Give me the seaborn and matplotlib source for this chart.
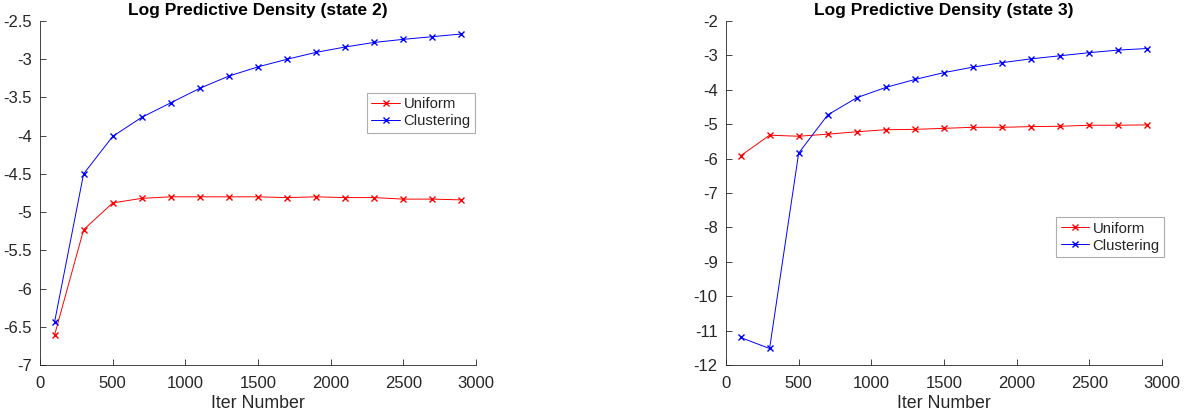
import numpy as np
import pandas as pd
import seaborn as sns
import matplotlib
matplotlib.use("Agg")
import matplotlib.pyplot as plt
from matplotlib.ticker import FuncFormatter

# Iteration counts shared by both panels
iters = [100, 300, 500, 700, 900, 1100, 1300, 1500, 1700, 1900, 2100, 2300, 2500, 2700, 2900]

# State 2 log predictive density
state2_uniform = [-6.61, -5.23, -4.88, -4.82, -4.80, -4.80, -4.80, -4.80, -4.81, -4.80,
                  -4.81, -4.81, -4.83, -4.83, -4.84]
state2_clustering = [-6.44, -4.50, -4.01, -3.76, -3.57, -3.38, -3.22, -3.10, -3.00, -2.91,
                     -2.84, -2.78, -2.74, -2.705, -2.67]

# State 3 log predictive density
state3_uniform = [-5.92, -5.32, -5.35, -5.29, -5.22, -5.16, -5.15, -5.12, -5.09, -5.09,
                  -5.07, -5.06, -5.03, -5.03, -5.02]
state3_clustering = [-11.20, -11.52, -5.84, -4.73, -4.23, -3.93, -3.70, -3.50, -3.34, -3.21,
                     -3.10, -3.01, -2.92, -2.845, -2.80]

methods = ["Uniform", "Clustering"]
titles = ["Log Predictive Density (state 2)", "Log Predictive Density (state 3)"]

sns.set_theme(style="white")
plt.rcParams["font.family"] = ["Liberation Sans", "DejaVu Sans"]

axis_gray = "#262626"
palette = {"Uniform": "#ff0000", "Clustering": "#0000ff"}


def long_frame(uniform, clustering):
    return pd.DataFrame({
        "iter": iters * 2,
        "lpd": uniform + clustering,
        "method": ["Uniform"] * len(iters) + ["Clustering"] * len(iters),
    })


fig = plt.figure(figsize=(11.88, 4.15), dpi=100)
ax1 = fig.add_axes([40 / 1188, 1 - 365 / 415, 436 / 1188, 344 / 415])
ax2 = fig.add_axes([726 / 1188, 1 - 365 / 415, 436 / 1188, 344 / 415])

panels = [
    (ax1, long_frame(state2_uniform, state2_clustering), (-7, -2.5), np.arange(-7, -2.49, 0.5), (0.75, 0.791)),
    (ax2, long_frame(state3_uniform, state3_clustering), (-12, -2), np.arange(-12, -1.99, 1), (0.757, 0.430)),
]

fmt = FuncFormatter(lambda v, _: ("%g" % round(v, 3)))

for (ax, df, ylim, yticks, leg_pos), title in zip(panels, titles):
    for m in methods:
        sub = df[df["method"] == m]
        sns.lineplot(data=sub, x="iter", y="lpd", ax=ax, color=palette[m], marker="x",
                     markersize=5, markeredgewidth=1.0, linewidth=0.7, label=m,
                     markeredgecolor=palette[m])
    ax.set_xlim(0, 3000)
    ax.set_ylim(*ylim)
    ax.set_xticks(np.arange(0, 3001, 500))
    ax.set_yticks(yticks)
    ax.yaxis.set_major_formatter(fmt)
    ax.set_title(title, fontsize=12.5, fontweight="bold", color="black", pad=4)
    ax.set_xlabel("Iter Number", fontsize=12.8, color=axis_gray, labelpad=3)
    ax.set_ylabel("")
    for side in ["top", "right"]:
        ax.spines[side].set_visible(False)
    for side in ["left", "bottom"]:
        ax.spines[side].set_color(axis_gray)
        ax.spines[side].set_linewidth(0.6)
    ax.tick_params(direction="in", length=4, width=0.6, colors=axis_gray,
                   labelsize=12, bottom=True, left=True)
    ax.tick_params(axis="x", pad=8)
    ax.tick_params(axis="y", pad=6)
    leg = ax.legend(loc="upper left", bbox_to_anchor=leg_pos, borderaxespad=0,
                    fontsize=10.7, frameon=True, fancybox=False, handlelength=1.9,
                    handletextpad=0.25, borderpad=0.3, labelspacing=0.2)
    leg.get_frame().set_edgecolor("#9a9a9a")
    leg.get_frame().set_linewidth(0.8)

fig.savefig("out.png", dpi=100, facecolor="white")
